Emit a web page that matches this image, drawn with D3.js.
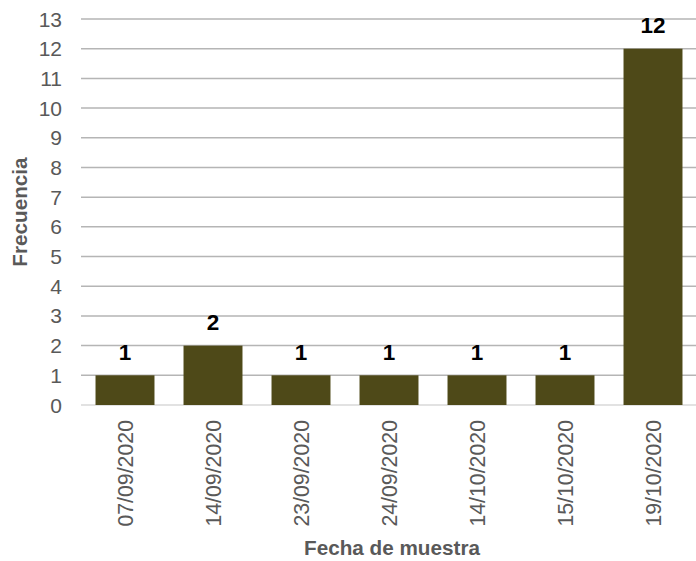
<!DOCTYPE html>
<html><head><meta charset="utf-8">
<script src="https://cdn.jsdelivr.net/npm/d3@7"></script>
<style>body{margin:0;background:#fff}svg{display:block;font-family:"Liberation Sans",Arial,sans-serif}</style>
</head><body>
<svg id="c" width="696" height="561"></svg>
<script>
const categories = ["07/09/2020","14/09/2020","23/09/2020","24/09/2020","14/10/2020","15/10/2020","19/10/2020"];
const values = [1,2,1,1,1,1,12];
const yTicks = [0,1,2,3,4,5,6,7,8,9,10,11,12,13];
const xTitle = "Fecha de muestra";
const yTitle = "Frecuencia";

const svg = d3.select("#c");
const mLeft = 81, mRight = 697, mTop = 19, mBottom = 405;
const x = d3.scaleBand().domain(categories).range([mLeft, mRight]).paddingInner(0.33).paddingOuter(0.165);
const y = d3.scaleLinear().domain([0, 13]).range([mBottom, mTop]);

// gridlines
svg.append("g").selectAll("line").data(yTicks).join("line")
  .attr("x1", mLeft).attr("x2", 696)
  .attr("y1", d => y(d)).attr("y2", d => y(d))
  .attr("stroke", d => d === 0 ? "#d9d9d9" : "#b5b5b5").attr("stroke-width", 1.5);

// y tick labels
svg.append("g").selectAll("text").data(yTicks).join("text")
  .attr("x", 62).attr("y", d => y(d)).attr("dy", "0.36em")
  .attr("text-anchor", "end").attr("font-size", 21).attr("fill", "#595959")
  .text(d => d);

// bars
svg.append("g").selectAll("rect").data(values).join("rect")
  .attr("x", (d, i) => x(categories[i])).attr("width", x.bandwidth())
  .attr("y", d => y(d)).attr("height", d => y(0) - y(d))
  .attr("fill", "#4e4918");

// value labels
svg.append("g").selectAll("text").data(values).join("text")
  .attr("x", (d, i) => x(categories[i]) + x.bandwidth() / 2)
  .attr("y", d => y(d) - 15.5)
  .attr("text-anchor", "middle").attr("font-size", 22.5).attr("font-weight", "bold").attr("fill", "#000")
  .text(d => d);

// x tick labels
svg.append("g").selectAll("text").data(categories).join("text")
  .attr("transform", d => `translate(${x(d) + x.bandwidth() / 2},420) rotate(-90)`)
  .attr("dy", "0.36em").attr("text-anchor", "end")
  .attr("font-size", 21.3).attr("fill", "#595959")
  .text(d => d);

// axis titles
svg.append("text").attr("x", 392).attr("y", 555)
  .attr("text-anchor", "middle").attr("font-size", 20.7).attr("font-weight", "bold").attr("fill", "#595959")
  .text(xTitle);
svg.append("text").attr("transform", "translate(27,212) rotate(-90)")
  .attr("text-anchor", "middle").attr("font-size", 20.7).attr("font-weight", "bold").attr("fill", "#595959")
  .text(yTitle);
</script>
</body></html>
